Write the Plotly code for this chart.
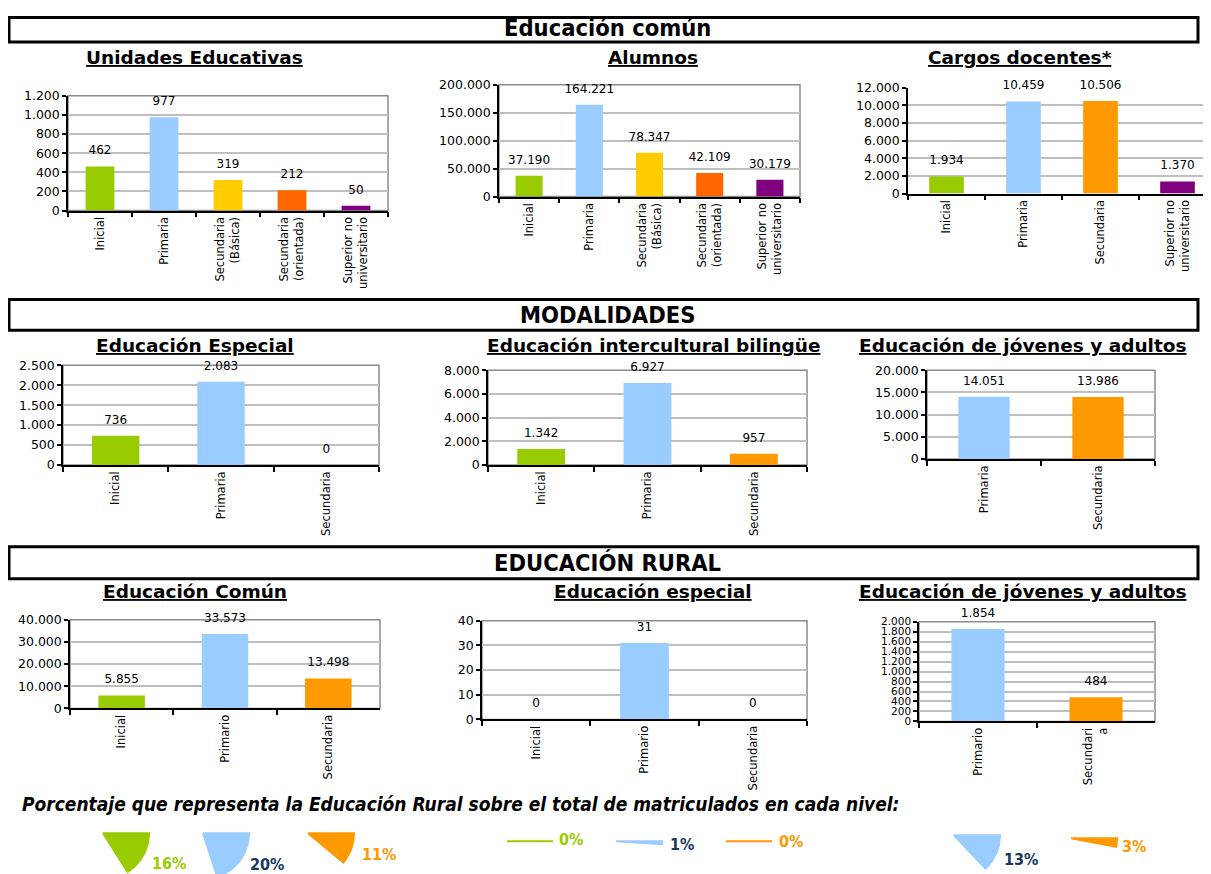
import math
import plotly.graph_objects as go

W, H = 1211, 874
# measured page-to-picture mapping of the viewer (body margin offset, slight vertical fit)
SX, OXP = 1.0, 8.0
SY, OYP = 0.985, 13.0

# ---------------- data ----------------
ue_cats = ["Inicial", "Primaria", "Secundaria<br>(Básica)", "Secundaria<br>(orientada)", "Superior no<br>universitario"]
ue_vals = [462, 977, 319, 212, 50]

al_cats = ["Inicial", "Primaria", "Secundaria<br>(Básica)", "Secundaria<br>(orientada)", "Superior no<br>universitario"]
al_vals = [37190, 164221, 78347, 42109, 30179]

cd_cats = ["Inicial", "Primaria", "Secundaria", "Superior no<br>universitario"]
cd_vals = [1934, 10459, 10506, 1370]

esp_cats = ["Inicial", "Primaria", "Secundaria"]
esp_vals = [736, 2083, 0]

eib_cats = ["Inicial", "Primaria", "Secundaria"]
eib_vals = [1342, 6927, 957]

eja_cats = ["Primaria", "Secundaria"]
eja_vals = [14051, 13986]

rc_cats = ["Inicial", "Primario", "Secundaria"]
rc_vals = [5855, 33573, 13498]

re_cats = ["Inicial", "Primario", "Secundaria"]
re_vals = [0, 31, 0]

rj_cats = ["Primario", "Secundari<br>a"]
rj_vals = [1854, 484]

pct_levels = ["Inicial", "Primaria", "Secundaria", "Inicial", "Primaria", "Secundaria", "Primaria", "Secundaria"]
pct_vals = [16, 20, 11, 0, 1, 0, 13, 3]

section_titles = ["Educación común", "MODALIDADES", "EDUCACIÓN RURAL"]
footer_text = "Porcentaje que representa la Educación Rural sobre el total de matriculados en cada nivel:"

# ---------------- styles ----------------
GREEN = "#99CC00"
LBLUE = "#99CCFF"
YELLOW = "#FFCC00"
RED_OR = "#FF6600"
PURPLE = "#800080"
ORANGE = "#FF9900"
DBLUE = "#17375E"

WIDE = "DejaVu Sans, Verdana, sans-serif"
NARROW = "Liberation Sans Narrow, DejaVu Sans Condensed, Arial Narrow, Liberation Sans, sans-serif"

def fx(p):
    return min(max(((p - OXP) / SX) / W, 0), 1)

def fy(p):
    return min(max(1 - ((p - OYP) / SY) / H, 0), 1)

# chart: (cats, vals, colors, title, title_x, title_y, x0, x1, ytop, ybot, ymax, dtick, border, ytickfont)
charts = [
    (ue_cats, ue_vals, [GREEN, LBLUE, YELLOW, RED_OR, PURPLE], "Unidades Educativas", 195, 55, 68, 388, 93, 208, 1200, 200, True, 12.5),
    (al_cats, al_vals, [GREEN, LBLUE, YELLOW, RED_OR, PURPLE], "Alumnos", 653, 55, 499, 800, 82, 194, 200000, 50000, True, 12.5),
    (cd_cats, cd_vals, [GREEN, LBLUE, ORANGE, PURPLE], "Cargos docentes*", 1020, 55, 908, 1216, 85, 191, 12000, 2000, False, 12.5),
    (esp_cats, esp_vals, [GREEN, LBLUE, ORANGE], "Educación Especial", 195, 343, 63, 379, 363, 463, 2500, 500, True, 12.5),
    (eib_cats, eib_vals, [GREEN, LBLUE, ORANGE], "Educación intercultural bilingüe", 653, 343, 488, 807, 368, 463, 8000, 2000, True, 12.5),
    (eja_cats, eja_vals, [LBLUE, ORANGE], "Educación de jóvenes y adultos", 1023, 343, 927, 1155, 368, 457, 20000, 5000, True, 12.5),
    (rc_cats, rc_vals, [GREEN, LBLUE, ORANGE], "Educación Común", 195, 590, 70, 380, 618, 707, 40000, 10000, True, 12.5),
    (re_cats, re_vals, [GREEN, LBLUE, ORANGE], "Educación especial", 653, 590, 482, 807, 619, 718, 40, 10, True, 12.5),
    (rj_cats, rj_vals, [LBLUE, ORANGE], "Educación de jóvenes y adultos", 1023, 590, 919, 1155, 620, 720, 2000, 200, True, 10.5),
]

fig = go.Figure()
layout = dict(
    width=W, height=H,
    margin=dict(l=0, r=0, t=0, b=0),
    paper_bgcolor="white", plot_bgcolor="rgba(0,0,0,0)",
    showlegend=False,
    separators=",.",
    font=dict(family=WIDE, color="black"),
)
shapes = []
annotations = []

for i, (cats, vals, cols, title, tx, ty, x0, x1, yt, yb, ymax, dt, border, ytf) in enumerate(charts, start=1):
    xa = "x" if i == 1 else f"x{i}"
    ya = "y" if i == 1 else f"y{i}"
    fig.add_trace(go.Bar(
        x=cats, y=vals, xaxis=xa, yaxis=ya,
        marker=dict(color=cols, line=dict(width=0)),
        width=0.45, hoverinfo="x+y",
    ))
    # value labels above the bars
    fig.add_trace(go.Scatter(
        x=cats, y=vals, xaxis=xa, yaxis=ya, mode="markers+text",
        marker=dict(size=13, color="rgba(0,0,0,0)"),
        texttemplate="%{y:,d}", textposition="top center",
        textfont=dict(size=12, color="black", family=WIDE),
        cliponaxis=False, hoverinfo="skip",
    ))
    layout["xaxis" if i == 1 else f"xaxis{i}"] = dict(
        domain=[fx(x0), fx(x1)], anchor=ya, type="category",
        tickangle=-90, tickson="boundaries", ticks="outside", ticklen=5,
        tickcolor="black", tickwidth=1.5,
        showline=True, linecolor="black", linewidth=1.5,
        showgrid=False, tickfont=dict(size=11.5, family=WIDE, color="black"),
        fixedrange=True,
    )
    layout["yaxis" if i == 1 else f"yaxis{i}"] = dict(
        domain=[fy(yb), fy(yt)], anchor=xa, range=[0, ymax], dtick=dt,
        tickformat=",d", showgrid=True, gridcolor="#BFBFBF", gridwidth=1.5,
        showline=True, linecolor="black", linewidth=1.5,
        ticks="outside", ticklen=4, tickcolor="black", tickwidth=1.5,
        zeroline=False, tickfont=dict(size=ytf, family=WIDE, color="black"),
        fixedrange=True,
    )
    if border:
        shapes.append(dict(type="rect", xref=f"{xa} domain", yref=f"{ya} domain",
                           x0=0, x1=1, y0=0, y1=1, layer="below",
                           line=dict(color="#8C8C8C", width=1.5)))
    annotations.append(dict(
        text=f"<b><u>{title}</u></b>", x=fx(tx), y=fy(ty), xref="paper", yref="paper",
        showarrow=False, xanchor="center", yanchor="middle",
        font=dict(size=18.5, family=WIDE, color="black"),
    ))

# section header boxes
boxes = [(9, 1198, 14.5, 39, 607, 25), (9, 1198, 297, 328, 607, 313), (9, 1198, 545, 577, 607, 561)]
for (bx0, bx1, by0, by1, tx, ty), txt in zip(boxes, section_titles):
    shapes.append(dict(type="rect", xref="paper", yref="paper",
                       x0=fx(bx0), x1=fx(bx1), y0=fy(by1), y1=fy(by0),
                       line=dict(color="black", width=3)))
    annotations.append(dict(text=f"<b>{txt}</b>", x=fx(tx), y=fy(ty), xref="paper", yref="paper",
                            showarrow=False, xanchor="center", yanchor="middle",
                            font=dict(size=23.5, family=NARROW, color="black")))

# footer text
annotations.append(dict(text=f"<b><i>{footer_text}</i></b>", x=fx(20), y=fy(803),
                        xref="paper", yref="paper", showarrow=False,
                        xanchor="left", yanchor="middle",
                        font=dict(size=19, family=NARROW, color="black")))

# ---------------- percentage wedges (overlay axis in picture pixels) ----------------
wedge_centers = [(103, 832), (203, 832), (308, 832), (507, 840), (616, 840), (726, 840), (954, 834), (1071, 837)]
wedge_R = 46
level_colors = {"Inicial": GREEN, "Primaria": LBLUE, "Secundaria": ORANGE}
label_colors = {"Inicial": GREEN, "Primaria": DBLUE, "Secundaria": ORANGE}
label_pos = [(150, 862), (248, 863), (360, 853), (557, 838), (668, 843), (777, 840), (1002, 858), (1120, 845)]

layout["xaxis10"] = dict(domain=[0, 1], range=[OXP, OXP + SX * W], visible=False, fixedrange=True, anchor="y10")
layout["yaxis10"] = dict(domain=[0, 1], range=[OYP + SY * H, OYP], visible=False, fixedrange=True, anchor="x10")

for lvl, pct, (cx, cy), (lx, ly) in zip(pct_levels, pct_vals, wedge_centers, label_pos):
    ang = pct * 3.6
    n = 40
    xs = [cx]
    ys = [cy]
    for k in range(n + 1):
        a = math.radians(ang * k / n)
        xs.append(cx + wedge_R * math.cos(a))
        ys.append(cy + wedge_R * math.sin(a))
    xs.append(cx)
    ys.append(cy)
    col = level_colors[lvl]
    fig.add_trace(go.Scatter(
        x=xs, y=ys, xaxis="x10", yaxis="y10", mode="lines", fill="toself",
        fillcolor=col, line=dict(color=col, width=2), hoverinfo="skip",
        cliponaxis=False,
    ))
    annotations.append(dict(text=f"<b>{pct}%</b>", x=lx, y=ly, xref="x10", yref="y10",
                            showarrow=False, xanchor="left", yanchor="middle",
                            font=dict(size=16, family=NARROW, color=label_colors[lvl])))

layout["shapes"] = shapes
layout["annotations"] = annotations
fig.update_layout(**layout)
fig.write_html("out.html")
